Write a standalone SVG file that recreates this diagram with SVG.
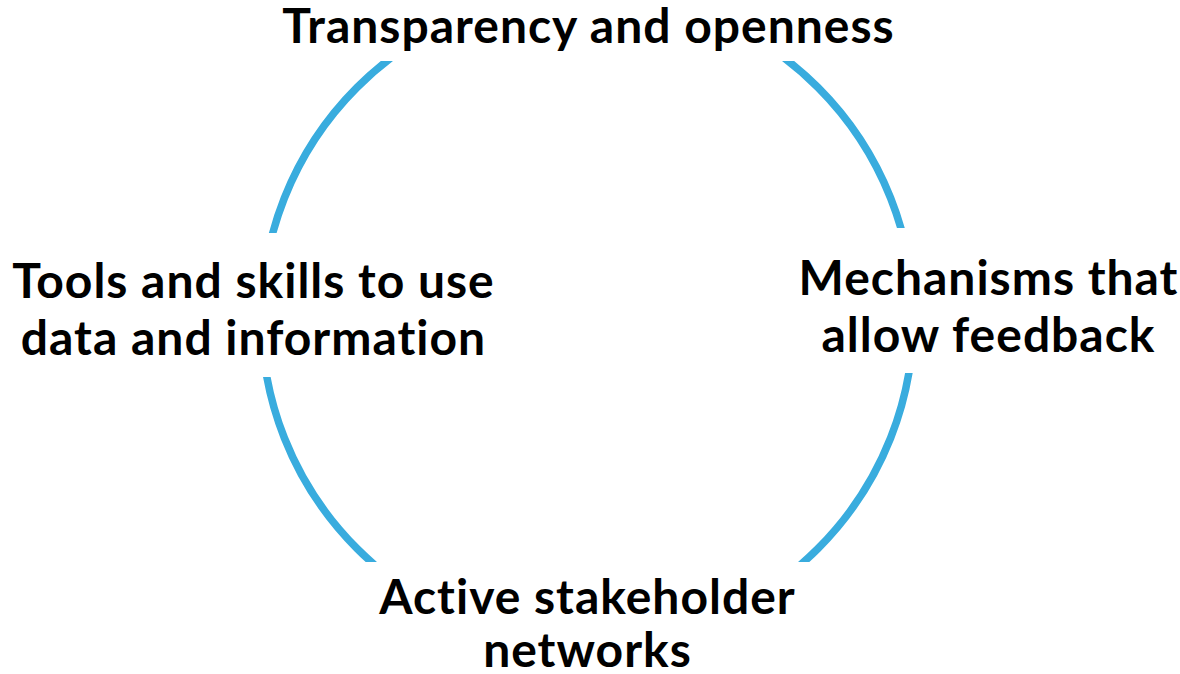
<svg xmlns="http://www.w3.org/2000/svg" width="1180" height="674" viewBox="0 0 1180 674">
<style>
.lbl{font-family:"Lato","Liberation Sans",sans-serif;font-weight:700;font-size:48px;letter-spacing:1px;fill:#000;text-anchor:middle}
.ring{fill:none;stroke:#39ACDE;stroke-width:7.5}
</style>
<defs>
<clipPath id="arcs">
<rect x="0" y="61" width="587.5" height="172"/>
<rect x="587.5" y="61" width="592.5" height="167"/>
<rect x="0" y="377" width="587.5" height="185"/>
<rect x="587.5" y="373" width="592.5" height="189"/>
</clipPath>
</defs>
<rect width="1180" height="674" fill="#fff"/>
<g id="connectors">
<circle class="ring" cx="587.5" cy="318" r="326" clip-path="url(#arcs)"/>
</g>
<g id="top"><text class="lbl" x="588.5" y="43">Transparency and openness</text></g>
<g id="left"><text class="lbl" x="253.5" y="298">Tools and skills to use</text><text class="lbl" x="253.5" y="355">data and information</text></g>
<g id="right"><text class="lbl" x="988.5" y="295">Mechanisms that</text><text class="lbl" x="988.5" y="352">allow feedback</text></g>
<g id="bottom"><text class="lbl" x="587.5" y="614">Active stakeholder</text><text class="lbl" x="587.5" y="667">networks</text></g>
</svg>
